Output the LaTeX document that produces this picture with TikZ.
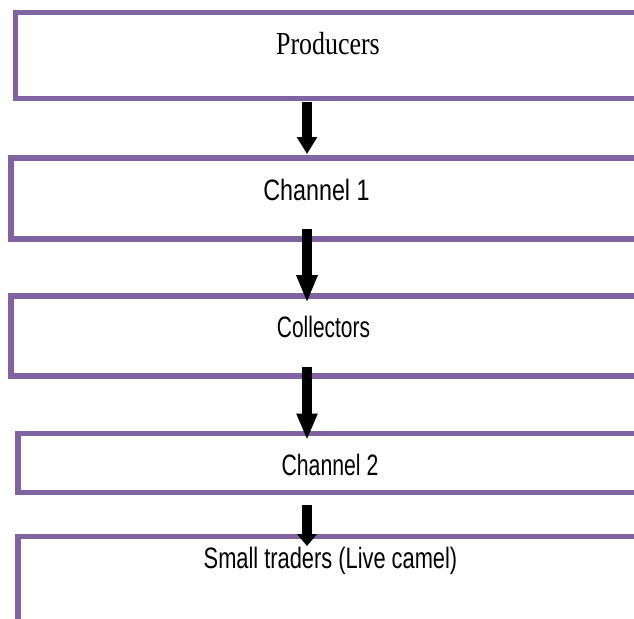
\documentclass[tikz,border=0pt]{standalone}
\usepackage{fontspec}
\usepackage{graphicx}
\newfontfamily\arialfont{Liberation Sans}
\newfontfamily\timesfont{Liberation Serif}
\usetikzlibrary{arrows.meta}
\definecolor{boxpurple}{RGB}{128,100,162}
\newcommand\squeeze[2]{\scalebox{#1}[1]{#2}}

\begin{document}
\begin{tikzpicture}[x=1pt,y=-1pt,
  box/.style={draw=boxpurple,line width=5.5pt,rectangle,anchor=north west,outer sep=0pt,inner sep=0pt},
  lbl/.style={anchor=base,inner sep=0pt,font=\arialfont\fontsize{29.5}{30}\selectfont},
  flow/.style={line width=9.5pt,-{Triangle[length=#1,width=19.5pt]}}]
\useasboundingbox (0,0) rectangle (634,618);

\node[box,minimum width=629.5pt,minimum height=86.4pt](1) at (15.5,12.3){};
\node[box,minimum width=634pt,minimum height=81pt](2) at (11,158){};
\node[box,minimum width=625.5pt,minimum height=80pt](3) at (11,296){};
\node[box,minimum width=627pt,minimum height=58.8pt](4) at (18,433.7){};
\node[box,minimum width=627pt,minimum height=93.7pt](5) at (18,536.3){};

\node[lbl,font=\timesfont\fontsize{32}{32}\selectfont](t1) at (328,55){\squeeze{0.81}{Producers}};
\node[lbl](t2) at (316.5,200){\squeeze{0.79}{Channel 1}};
\node[lbl](t3) at (323.5,337){\squeeze{0.71}{Collectors}};
\node[lbl](t4) at (330,475){\squeeze{0.72}{Channel 2}};
\node[lbl](t5) at (330.5,568){\squeeze{0.74}{Small traders (Live camel)}};

\coordinate (ax) at (307,0);
\path (1.south -| ax) edge[flow=17pt,shorten <=3pt,shorten >=4pt] (2.north -| ax);
\path (2.south -| ax) edge[flow=27.5pt,shorten <=-10pt,shorten >=-6.7pt] (3.north -| ax);
\path (3.south -| ax) edge[flow=26.5pt,shorten <=-9pt,shorten >=-6.3pt] (4.north -| ax);
\path (4.south -| ax) edge[flow=12pt,shorten <=12.5pt,shorten >=-9.7pt] (5.north -| ax);
\end{tikzpicture}
\end{document}
